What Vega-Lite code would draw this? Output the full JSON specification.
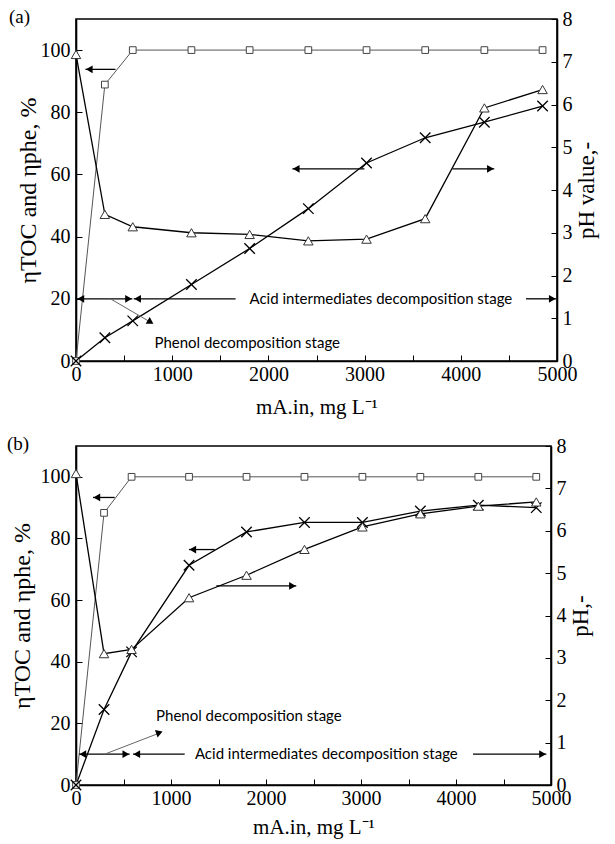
{
  "$schema": "https://vega.github.io/schema/vega-lite/v6.json",
  "padding": {"left": 6, "top": 7, "right": 4, "bottom": 4},
  "spacing": 16,
  "columns": 1,
  "align": "none",
  "config": {
    "view": {"stroke": "black", "strokeWidth": 1.6},
    "font": "Liberation Serif",
    "axis": {"grid": false, "domainColor": "black", "domainWidth": 1.6, "tickColor": "black", "tickWidth": 1, "tickSize": -6, "labelFont": "Liberation Serif", "labelFontSize": 20, "labelColor": "black", "titleFont": "Liberation Serif", "titleFontSize": 23, "titleFontWeight": "normal", "titleColor": "black", "labelOverlap": false, "labelFlush": false, "format": "d"}
  },
  "datasets": {
    "a": [
      {"m": 0, "phe": 0, "toc": 0, "ph": 7.17},
      {"m": 300, "phe": 88.9, "toc": 7.5, "ph": 3.43},
      {"m": 590, "phe": 100, "toc": 12.9, "ph": 3.14},
      {"m": 1200, "phe": 100, "toc": 24.6, "ph": 3.0},
      {"m": 1805, "phe": 100, "toc": 36.2, "ph": 2.96},
      {"m": 2415, "phe": 100, "toc": 49.0, "ph": 2.81},
      {"m": 3020, "phe": 100, "toc": 63.7, "ph": 2.85},
      {"m": 3630, "phe": 100, "toc": 71.8, "ph": 3.33},
      {"m": 4245, "phe": 100, "toc": 76.8, "ph": 5.92},
      {"m": 4850, "phe": 100, "toc": 82.0, "ph": 6.35}
    ],
    "a_seg": [
      {"m": 98, "m2": 410, "v": 93.8, "v2": 93.8},
      {"m": 2249, "m2": 2998, "v": 61.8, "v2": 61.8},
      {"m": 3914, "m2": 4348, "v": 61.8, "v2": 61.8},
      {"m": 10, "m2": 586, "v": 20, "v2": 20},
      {"m": 600, "m2": 1659, "v": 20, "v2": 20},
      {"m": 4678, "m2": 4991, "v": 20, "v2": 20}
    ],
    "a_diag": [{"m": 358, "m2": 790, "v": 20, "v2": 12.2}],
    "a_head": [
      {"m": 138, "v": 93.8, "dir": "left"},
      {"m": 2289, "v": 61.8, "dir": "left"},
      {"m": 4308, "v": 61.8, "dir": "right"},
      {"m": 50, "v": 20, "dir": "left"},
      {"m": 546, "v": 20, "dir": "right"},
      {"m": 640, "v": 20, "dir": "left"},
      {"m": 4951, "v": 20, "dir": "right"},
      {"m": 775, "v": 12.5, "dir": "diag"}
    ],
    "a_text": [
      {"m": 3169, "v": 20, "label": "Acid intermediates decomposition stage"},
      {"m": 1780, "v": 5.9, "label": "Phenol decomposition stage"}
    ],
    "b": [
      {"m": 0, "phe": 0, "toc": 0, "ph": 7.35},
      {"m": 295, "phe": 88.3, "toc": 24.5, "ph": 3.1},
      {"m": 585, "phe": 100, "toc": 43.2, "ph": 3.2},
      {"m": 1190, "phe": 100, "toc": 71.3, "ph": 4.42},
      {"m": 1795, "phe": 100, "toc": 82.1, "ph": 4.95},
      {"m": 2405, "phe": 100, "toc": 85.2, "ph": 5.56},
      {"m": 3015, "phe": 100, "toc": 85.2, "ph": 6.09},
      {"m": 3625, "phe": 100, "toc": 88.9, "ph": 6.4},
      {"m": 4235, "phe": 100, "toc": 90.8, "ph": 6.58},
      {"m": 4845, "phe": 100, "toc": 90.0, "ph": 6.68}
    ],
    "b_seg": [
      {"m": 179, "m2": 407, "v": 93.3, "v2": 93.3},
      {"m": 1189, "m2": 1460, "v": 76.4, "v2": 76.4},
      {"m": 1477, "m2": 2319, "v": 64.6, "v2": 64.6},
      {"m": 32, "m2": 565, "v": 10, "v2": 10},
      {"m": 600, "m2": 1144, "v": 10, "v2": 10},
      {"m": 4179, "m2": 4951, "v": 10, "v2": 10}
    ],
    "b_diag": [{"m": 302, "m2": 890, "v": 10, "v2": 17.0}],
    "b_head": [
      {"m": 219, "v": 93.3, "dir": "left"},
      {"m": 1229, "v": 76.4, "dir": "left"},
      {"m": 2279, "v": 64.6, "dir": "right"},
      {"m": 72, "v": 10, "dir": "left"},
      {"m": 525, "v": 10, "dir": "right"},
      {"m": 640, "v": 10, "dir": "left"},
      {"m": 4911, "v": 10, "dir": "right"},
      {"m": 878, "v": 17.0, "dir": "diag"}
    ],
    "b_text": [
      {"m": 2635, "v": 10, "label": "Acid intermediates decomposition stage"},
      {"m": 1820, "v": 22.5, "label": "Phenol decomposition stage"}
    ]
  },
  "concat": [
    {
      "width": 481, "height": 342,
      "title": {"text": "(a)", "anchor": "start", "frame": "group", "orient": "top", "dx": -67, "dy": 23, "offset": -10, "baseline": "alphabetic", "font": "Liberation Serif", "fontSize": 19, "fontWeight": "normal", "color": "black"},
      "layer": [
        {"layer": [
          {"data": {"name": "a"}, "mark": {"type": "line", "color": "#555", "strokeWidth": 1},
           "encoding": {
             "x": {"field": "m", "type": "quantitative", "title": "mA.in, mg L⁻¹", "scale": {"domain": [0, 5000], "nice": false},
                   "axis": {"values": [0, 500, 1000, 1500, 2000, 2500, 3000, 3500, 4000, 4500, 5000], "labelExpr": "datum.value % 1000 === 0 ? datum.label : ''", "labelFont": "Liberation Serif", "labelPadding": 9, "titlePadding": 12, "titleFontSize": 21}},
             "y": {"field": "phe", "type": "quantitative", "title": "ηTOC and ηphe, %", "scale": {"domain": [0, 110], "nice": false},
                   "axis": {"orient": "left", "values": [0, 20, 40, 60, 80, 100], "labelFont": "Liberation Serif", "labelPadding": 12, "titlePadding": 0, "titleFontSize": 24}}}},
          {"data": {"name": "a"}, "mark": {"type": "line", "color": "black", "strokeWidth": 1.3},
           "encoding": {"x": {"field": "m", "type": "quantitative", "title": "mA.in, mg L⁻¹"}, "y": {"field": "toc", "type": "quantitative", "title": "ηTOC and ηphe, %"}}},
          {"mark": {"type": "rule", "strokeDash": [3, 2], "color": "black", "strokeWidth": 1},
           "encoding": {"x": {"datum": 590, "type": "quantitative"}}},
          {"data": {"name": "a_seg"}, "mark": {"type": "rule", "color": "black", "strokeWidth": 1.3},
           "encoding": {"x": {"field": "m", "type": "quantitative", "title": "mA.in, mg L⁻¹"}, "x2": {"field": "m2"}, "y": {"field": "v", "type": "quantitative", "title": "ηTOC and ηphe, %"}, "y2": {"field": "v2"}}},
          {"data": {"name": "a_diag"}, "mark": {"type": "rule", "color": "#666", "strokeWidth": 1},
           "encoding": {"x": {"field": "m", "type": "quantitative", "title": "mA.in, mg L⁻¹"}, "x2": {"field": "m2"}, "y": {"field": "v", "type": "quantitative", "title": "ηTOC and ηphe, %"}, "y2": {"field": "v2"}}},
          {"data": {"name": "a_head"}, "transform": [{"filter": "datum.dir === 'left'"}], "mark": {"type": "point", "shape": "triangle-left", "filled": true, "color": "black", "size": 60, "opacity": 1},
           "encoding": {"x": {"field": "m", "type": "quantitative", "title": "mA.in, mg L⁻¹"}, "y": {"field": "v", "type": "quantitative", "title": "ηTOC and ηphe, %"}}},
          {"data": {"name": "a_head"}, "transform": [{"filter": "datum.dir === 'right'"}], "mark": {"type": "point", "shape": "triangle-right", "filled": true, "color": "black", "size": 60, "opacity": 1},
           "encoding": {"x": {"field": "m", "type": "quantitative", "title": "mA.in, mg L⁻¹"}, "y": {"field": "v", "type": "quantitative", "title": "ηTOC and ηphe, %"}}},
          {"data": {"name": "a_head"}, "transform": [{"filter": "datum.dir === 'diag'"}], "mark": {"type": "point", "shape": "triangle-right", "angle": 31, "filled": true, "color": "black", "size": 60, "opacity": 1},
           "encoding": {"x": {"field": "m", "type": "quantitative", "title": "mA.in, mg L⁻¹"}, "y": {"field": "v", "type": "quantitative", "title": "ηTOC and ηphe, %"}}},
          {"data": {"name": "a_text"}, "mark": {"type": "text", "font": "Lato", "fontSize": 15, "color": "black", "align": "center", "baseline": "middle"},
           "encoding": {"x": {"field": "m", "type": "quantitative", "title": "mA.in, mg L⁻¹"}, "y": {"field": "v", "type": "quantitative", "title": "ηTOC and ηphe, %"}, "text": {"field": "label"}}},
          {"data": {"name": "a"}, "mark": {"type": "point", "shape": "square", "filled": true, "fill": "white", "stroke": "#444", "strokeWidth": 1, "size": 45, "opacity": 1},
           "encoding": {"x": {"field": "m", "type": "quantitative", "title": "mA.in, mg L⁻¹"}, "y": {"field": "phe", "type": "quantitative", "title": "ηTOC and ηphe, %"}}},
          {"data": {"name": "a"}, "mark": {"type": "point", "shape": "M-1,-1L1,1M1,-1L-1,1", "filled": false, "stroke": "black", "strokeWidth": 1.3, "size": 110, "opacity": 1},
           "encoding": {"x": {"field": "m", "type": "quantitative", "title": "mA.in, mg L⁻¹"}, "y": {"field": "toc", "type": "quantitative", "title": "ηTOC and ηphe, %"}}}
        ]},
        {"layer": [
          {"data": {"name": "a"}, "mark": {"type": "line", "color": "black", "strokeWidth": 1.3},
           "encoding": {"x": {"field": "m", "type": "quantitative", "title": "mA.in, mg L⁻¹"},
             "y": {"field": "ph", "type": "quantitative", "title": "pH value,-", "scale": {"domain": [0, 8], "nice": false},
                   "axis": {"orient": "right", "values": [0, 1, 2, 3, 4, 5, 6, 7, 8], "labelFont": "Liberation Serif", "labelPadding": 11, "titlePadding": 26, "titleAngle": 270}}}},
          {"data": {"name": "a"}, "mark": {"type": "point", "shape": "triangle-up", "filled": true, "fill": "white", "stroke": "#333", "strokeWidth": 1, "size": 90, "opacity": 1},
           "encoding": {"x": {"field": "m", "type": "quantitative", "title": "mA.in, mg L⁻¹"}, "y": {"field": "ph", "type": "quantitative", "title": "pH value,-"}}}
        ]}
      ],
      "resolve": {"scale": {"y": "independent"}}
    },
    {
      "width": 475, "height": 339,
      "title": {"text": "(b)", "anchor": "start", "frame": "group", "orient": "top", "dx": -69, "dy": 23, "offset": -10, "baseline": "alphabetic", "font": "Liberation Serif", "fontSize": 19, "fontWeight": "normal", "color": "black"},
      "layer": [
        {"layer": [
          {"data": {"name": "b"}, "mark": {"type": "line", "color": "#555", "strokeWidth": 1},
           "encoding": {
             "x": {"field": "m", "type": "quantitative", "title": "mA.in, mg L⁻¹", "scale": {"domain": [0, 5000], "nice": false},
                   "axis": {"values": [0, 500, 1000, 1500, 2000, 2500, 3000, 3500, 4000, 4500, 5000], "labelExpr": "datum.value % 1000 === 0 ? datum.label : ''", "labelFont": "Liberation Serif", "labelPadding": 9, "titlePadding": 8, "titleFontSize": 21}},
             "y": {"field": "phe", "type": "quantitative", "title": "ηTOC and ηphe, %", "scale": {"domain": [0, 110], "nice": false},
                   "axis": {"orient": "left", "values": [0, 20, 40, 60, 80, 100], "labelFont": "Liberation Serif", "labelPadding": 12, "titlePadding": 6, "titleFontSize": 24}}}},
          {"data": {"name": "b"}, "mark": {"type": "line", "color": "black", "strokeWidth": 1.3},
           "encoding": {"x": {"field": "m", "type": "quantitative", "title": "mA.in, mg L⁻¹"}, "y": {"field": "toc", "type": "quantitative", "title": "ηTOC and ηphe, %"}}},
          {"mark": {"type": "rule", "strokeDash": [3, 2], "color": "black", "strokeWidth": 1},
           "encoding": {"x": {"datum": 585, "type": "quantitative"}}},
          {"data": {"name": "b_seg"}, "mark": {"type": "rule", "color": "black", "strokeWidth": 1.3},
           "encoding": {"x": {"field": "m", "type": "quantitative", "title": "mA.in, mg L⁻¹"}, "x2": {"field": "m2"}, "y": {"field": "v", "type": "quantitative", "title": "ηTOC and ηphe, %"}, "y2": {"field": "v2"}}},
          {"data": {"name": "b_diag"}, "mark": {"type": "rule", "color": "#666", "strokeWidth": 1},
           "encoding": {"x": {"field": "m", "type": "quantitative", "title": "mA.in, mg L⁻¹"}, "x2": {"field": "m2"}, "y": {"field": "v", "type": "quantitative", "title": "ηTOC and ηphe, %"}, "y2": {"field": "v2"}}},
          {"data": {"name": "b_head"}, "transform": [{"filter": "datum.dir === 'left'"}], "mark": {"type": "point", "shape": "triangle-left", "filled": true, "color": "black", "size": 60, "opacity": 1},
           "encoding": {"x": {"field": "m", "type": "quantitative", "title": "mA.in, mg L⁻¹"}, "y": {"field": "v", "type": "quantitative", "title": "ηTOC and ηphe, %"}}},
          {"data": {"name": "b_head"}, "transform": [{"filter": "datum.dir === 'right'"}], "mark": {"type": "point", "shape": "triangle-right", "filled": true, "color": "black", "size": 60, "opacity": 1},
           "encoding": {"x": {"field": "m", "type": "quantitative", "title": "mA.in, mg L⁻¹"}, "y": {"field": "v", "type": "quantitative", "title": "ηTOC and ηphe, %"}}},
          {"data": {"name": "b_head"}, "transform": [{"filter": "datum.dir === 'diag'"}], "mark": {"type": "point", "shape": "triangle-right", "angle": -20, "filled": true, "color": "black", "size": 60, "opacity": 1},
           "encoding": {"x": {"field": "m", "type": "quantitative", "title": "mA.in, mg L⁻¹"}, "y": {"field": "v", "type": "quantitative", "title": "ηTOC and ηphe, %"}}},
          {"data": {"name": "b_text"}, "mark": {"type": "text", "font": "Lato", "fontSize": 15, "color": "black", "align": "center", "baseline": "middle"},
           "encoding": {"x": {"field": "m", "type": "quantitative", "title": "mA.in, mg L⁻¹"}, "y": {"field": "v", "type": "quantitative", "title": "ηTOC and ηphe, %"}, "text": {"field": "label"}}},
          {"data": {"name": "b"}, "mark": {"type": "point", "shape": "square", "filled": true, "fill": "white", "stroke": "#444", "strokeWidth": 1, "size": 45, "opacity": 1},
           "encoding": {"x": {"field": "m", "type": "quantitative", "title": "mA.in, mg L⁻¹"}, "y": {"field": "phe", "type": "quantitative", "title": "ηTOC and ηphe, %"}}},
          {"data": {"name": "b"}, "mark": {"type": "point", "shape": "M-1,-1L1,1M1,-1L-1,1", "filled": false, "stroke": "black", "strokeWidth": 1.3, "size": 110, "opacity": 1},
           "encoding": {"x": {"field": "m", "type": "quantitative", "title": "mA.in, mg L⁻¹"}, "y": {"field": "toc", "type": "quantitative", "title": "ηTOC and ηphe, %"}}}
        ]},
        {"layer": [
          {"data": {"name": "b"}, "mark": {"type": "line", "color": "black", "strokeWidth": 1.3},
           "encoding": {"x": {"field": "m", "type": "quantitative", "title": "mA.in, mg L⁻¹"},
             "y": {"field": "ph", "type": "quantitative", "title": "pH,-", "scale": {"domain": [0, 8], "nice": false},
                   "axis": {"orient": "right", "values": [0, 1, 2, 3, 4, 5, 6, 7, 8], "labelFont": "Liberation Serif", "labelPadding": 11, "titlePadding": 26, "titleAngle": 270}}}},
          {"data": {"name": "b"}, "mark": {"type": "point", "shape": "triangle-up", "filled": true, "fill": "white", "stroke": "#333", "strokeWidth": 1, "size": 90, "opacity": 1},
           "encoding": {"x": {"field": "m", "type": "quantitative", "title": "mA.in, mg L⁻¹"}, "y": {"field": "ph", "type": "quantitative", "title": "pH,-"}}}
        ]}
      ],
      "resolve": {"scale": {"y": "independent"}}
    }
  ]
}
